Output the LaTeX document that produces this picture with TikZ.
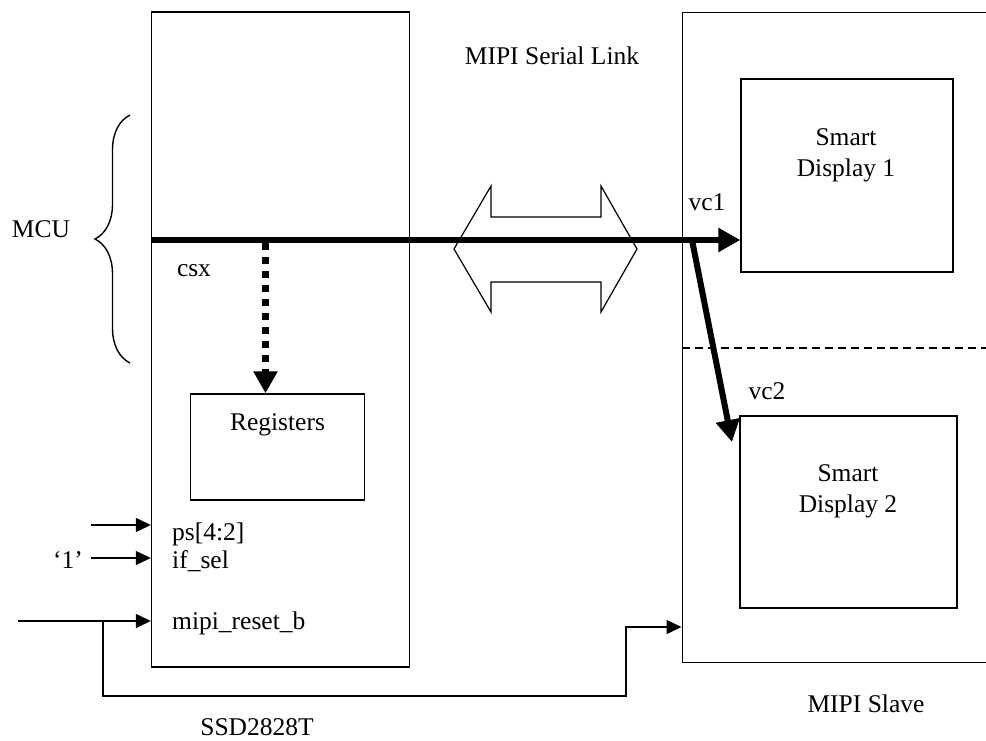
\documentclass[tikz,border=0pt]{standalone}
\usepackage{fontspec}
\setmainfont{Liberation Serif}
\usepackage{tikz}
\usetikzlibrary{positioning}
\usetikzlibrary{decorations.pathreplacing}
\usetikzlibrary{arrows.meta,calc}

\begin{document}
\begin{tikzpicture}[x=1pt,y=-1pt,
    blk/.style={draw,line width=1.4pt,inner sep=0pt},
    lbl/.style={font=\fontsize{25.5}{31}\selectfont,inner sep=0pt},
    sig/.style={line width=1.4pt,-{Triangle[length=15pt,width=14pt]}},
    bus/.style={line width=6pt,-{Triangle[length=22pt,width=23pt]}}]
\clip (0,0) rectangle (986,740);
% boxes
\node[blk,minimum width=258pt,minimum height=655pt] (ssd) at (280.5,339.5) {};
\node[blk,minimum width=330pt,minimum height=650pt,anchor=north west] (slave) at (681.5,12) {};
\node[blk,minimum width=212pt,minimum height=193pt] (disp1) at (847,175.5) {};
\node[blk,minimum width=217pt,minimum height=192pt] (disp2) at (848.5,512) {};
\node[blk,minimum width=174pt,minimum height=106pt] (regs) at (277.5,447) {};
\draw[line width=1.2pt,dash pattern=on 8pt off 5pt] (slave.west |- 0,348) -- (986,348);
% texts
\node[lbl,anchor=base] (link) at (552,64) {MIPI Serial Link};
\node[lbl,anchor=base] (mcu) at (41,237) {MCU};
\node[lbl,anchor=base] (csx) at (194,276) {csx};
\node[lbl,anchor=base] (vc1) at (707,210) {vc1};
\node[lbl,anchor=base] (vc2) at (767,399) {vc2};
\node[lbl,anchor=base,align=center] (d1txt) at (846,176) {Smart\\Display 1};
\node[lbl,anchor=base,align=center] (d2txt) at (848,512) {Smart\\Display 2};
\node[lbl,anchor=base] (regtxt) at (regs.north |- 0,430) {Registers};
\node[lbl,anchor=base west] (ps) at (172,540) {ps[4:2]};
\node[lbl,anchor=base west] (ifsel) at (172,568) {if\_sel};
\node[lbl,anchor=base west] (rst) at (172,629) {mipi\_reset\_b};
\node[lbl,anchor=base] (one) at (68,568) {`1'};
\node[lbl,anchor=base] (ssdtxt) at (257,735) {SSD2828T};
\node[lbl,anchor=base] (slavetxt) at (866,712) {MIPI Slave};
% MCU brace
\draw[line width=1.4pt,decorate,decoration={brace,amplitude=35pt}] (130,363) -- (130,115);
% serial link double arrow
\draw[line width=1.2pt,fill=white] (454,249) -- (491,186) -- (491,217) -- (601,217) -- (601,186)
  -- (637,249) -- (601,312) -- (601,282) -- (491,282) -- (491,312) -- cycle;
% bus and virtual channels
\coordinate (busL) at (151,240);
\coordinate (split) at (692,240);
\coordinate (vc2tip) at (732,442);
\draw[bus] (busL) -- (disp1.west |- busL);
\draw[bus,shorten <=-2pt] (split) -- (vc2tip);
\draw[line width=7pt,dash pattern=on 7pt off 7pt,-{Triangle[length=22pt,width=23pt]}]
  (265.5,243) -- (regs.north -| 265.5,0);
% inputs
\coordinate (psin) at (91,525);
\coordinate (ifin) at (91,558);
\coordinate (rstin) at (18,621);
\coordinate (rsttap) at (103,621);
\draw[sig] (psin) -- (ssd.west |- psin);
\draw[sig] (ifin) -- (ssd.west |- ifin);
\draw[sig] (rstin) -- (ssd.west |- rstin);
\draw[sig] (rsttap) -- (103,696) -- (626,696) -- (626,627) -- (slave.west |- 0,627);
\end{tikzpicture}
\end{document}
